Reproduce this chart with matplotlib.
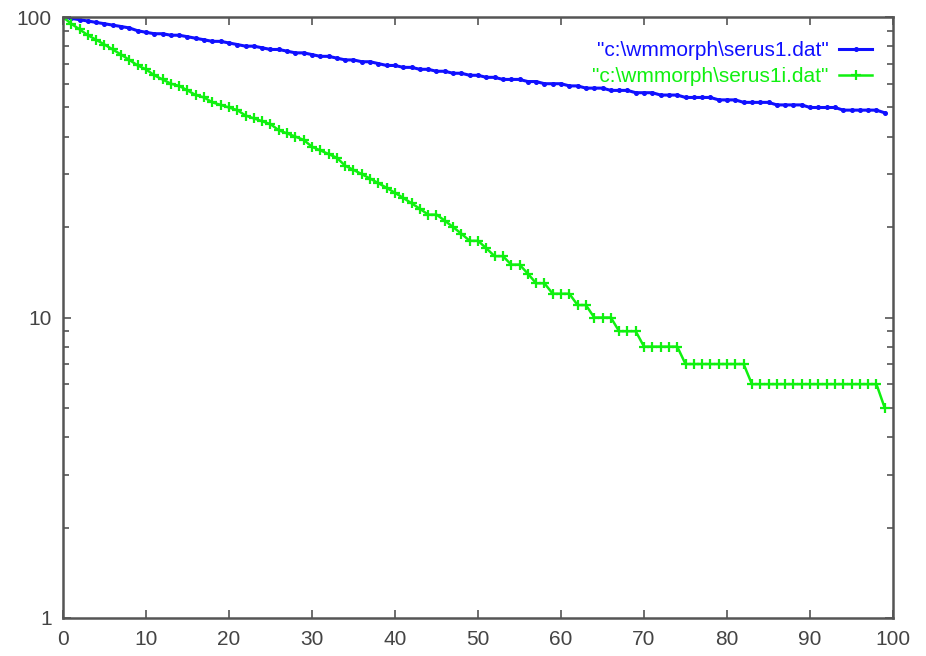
import matplotlib
matplotlib.use("Agg")
import matplotlib.pyplot as plt
from matplotlib.ticker import LogLocator, FixedLocator, NullFormatter, FixedFormatter

plt.rcParams['font.family'] = ['Liberation Sans', 'DejaVu Sans']

x_vals = list(range(100))

serus1 = [100, 99, 98, 97, 96, 95, 94, 93, 92, 90,
          89, 88, 88, 87, 87, 86, 85, 84, 83, 83,
          82, 81, 80, 80, 79, 78, 78, 77, 76, 76,
          75, 74, 74, 73, 72, 72, 71, 71, 70, 69,
          69, 68, 68, 67, 67, 66, 66, 65, 65, 64,
          64, 63, 63, 62, 62, 62, 61, 61, 60, 60,
          60, 59, 59, 58, 58, 58, 57, 57, 57, 56,
          56, 56, 55, 55, 55, 54, 54, 54, 54, 53,
          53, 53, 52, 52, 52, 52, 51, 51, 51, 51,
          50, 50, 50, 50, 49, 49, 49, 49, 49, 48]

serus1i = [100, 95, 91, 87, 84, 81, 78, 75, 72, 69,
           67, 64, 62, 60, 59, 57, 55, 54, 52, 51,
           50, 49, 47, 46, 45, 44, 42, 41, 40, 39,
           37, 36, 35, 34, 32, 31, 30, 29, 28, 27,
           26, 25, 24, 23, 22, 22, 21, 20, 19, 18,
           18, 17, 16, 16, 15, 15, 14, 13, 13, 12,
           12, 12, 11, 11, 10, 10, 10, 9, 9, 9,
           8, 8, 8, 8, 8, 7, 7, 7, 7, 7,
           7, 7, 7, 6, 6, 6, 6, 6, 6, 6,
           6, 6, 6, 6, 6, 6, 6, 6, 6, 5]

labels = ['"c:\\wmmorph\\serus1.dat"', '"c:\\wmmorph\\serus1i.dat"']
x_ticks = [0, 10, 20, 30, 40, 50, 60, 70, 80, 90, 100]
y_ticks = [1, 10, 100]
y_ticklabels = ['1', '10', '100']

fig = plt.figure(figsize=(9.26, 6.56), dpi=100)
ax = fig.add_axes([0.068, 0.058, 0.8964, 0.916])

ax.plot(x_vals, serus1, color='#1010ff', lw=2.2, marker='o', ms=2.6,
        mec='#1010ff', mfc='#1010ff', label=labels[0])
ax.plot(x_vals, serus1i, color='#10f010', lw=1.8, marker='+', ms=6.5,
        mew=1.6, label=labels[1])

ax.set_yscale('log')
ax.set_xlim(0, 100)
ax.set_ylim(1, 100)
ax.xaxis.set_major_locator(FixedLocator(x_ticks))
ax.yaxis.set_major_locator(FixedLocator(y_ticks))
ax.yaxis.set_major_formatter(FixedFormatter(y_ticklabels))
ax.yaxis.set_minor_locator(LogLocator(base=10, subs=range(2, 10)))
ax.yaxis.set_minor_formatter(NullFormatter())

frame_col = '#555555'
for s in ax.spines.values():
    s.set_color(frame_col)
    s.set_linewidth(1.8)
ax.tick_params(which='both', direction='in', top=True, right=True,
               color=frame_col, labelcolor='#444444', labelsize=15)
ax.tick_params(which='major', length=6, width=1.2)
ax.tick_params(which='minor', length=4, width=1.2)
ax.tick_params(axis='y', which='major', pad=8)
ax.tick_params(axis='x', which='major', pad=9)

leg = ax.legend(loc='upper right', markerfirst=False, frameon=False,
                fontsize=15, labelcolor='linecolor', numpoints=1,
                handlelength=1.6, handletextpad=0.5, labelspacing=0.35,
                borderaxespad=0.6, bbox_to_anchor=(1.0, 0.995))

fig.savefig('out.png', dpi=100)
